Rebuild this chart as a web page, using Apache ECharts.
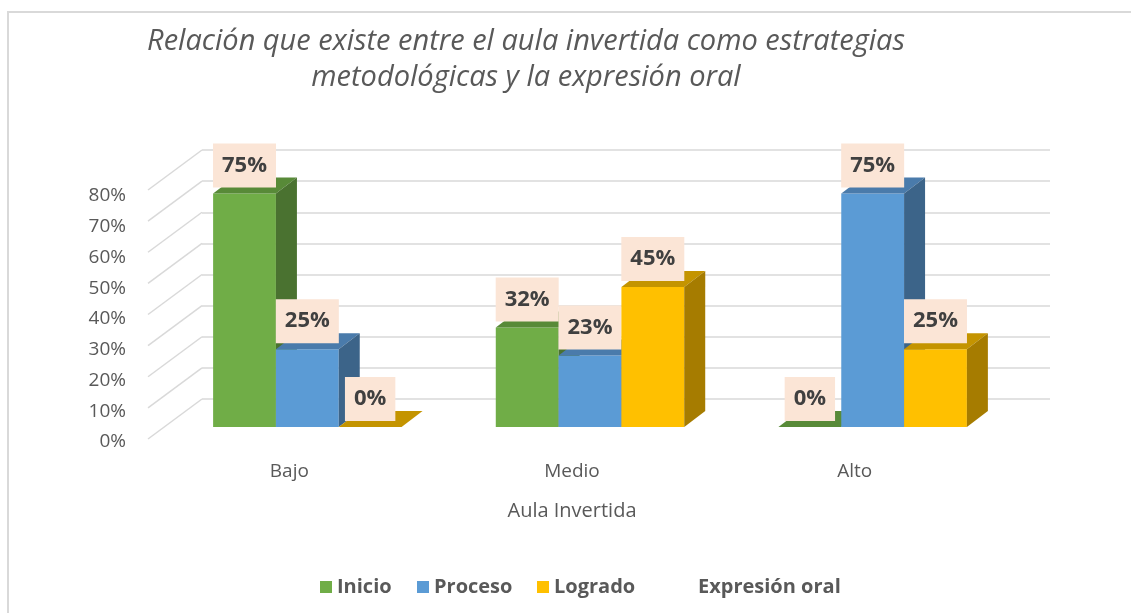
<!DOCTYPE html>
<html>
<head>
<meta charset="utf-8">
<script src="https://cdn.jsdelivr.net/npm/echarts@6/dist/echarts.min.js"></script>
<style>html,body{margin:0;padding:0;background:#fff;}#c{width:1131px;height:613px;}</style>
</head>
<body>
<div id="c"></div>
<script>
const categories = ['Bajo', 'Medio', 'Alto'];
const inicio = [0.75, 0.32, 0];
const proceso = [0.25, 0.23, 0.75];
const logrado = [0, 0.45, 0.25];
const yTicks = [0, 0.1, 0.2, 0.3, 0.4, 0.5, 0.6, 0.7, 0.8];
const seriesNames = ['Inicio', 'Proceso', 'Logrado', 'Expresión oral'];
const titleText = 'Relación que existe entre el aula invertida como estrategias\nmetodológicas y la expresión oral';
const axisName = 'Aula Invertida';

const FONT = '"Open Sans", sans-serif';
const palettes = [
  { main: '#70ad47', top: '#588a38', side: '#4a7230' },
  { main: '#5b9bd5', top: '#4a7bab', side: '#3c6489' },
  { main: '#ffc000', top: '#c49400', side: '#a67c00' }
];
// perspective offsets (pixels)
const FRONT_DX = -36, FRONT_DY = 28, DEPTH_DX = 21, DEPTH_DY = -16;
const WALL_DX = -54, WALL_DY = 40;

function barRenderer(si) {
  const pal = palettes[si];
  return function (params, api) {
    const c = api.value(0), v = api.value(1);
    const base = api.coord([c, 0]);
    const topP = api.coord([c, v]);
    const bandW = api.size([1, 0])[0];
    const bw = bandW * 2 / 9;
    const x0 = base[0] - 1.5 * bw + si * bw + FRONT_DX;
    const x1 = x0 + bw;
    const yb = base[1] + FRONT_DY;
    const yt = topP[1] + FRONT_DY;
    const children = [
      { type: 'rect', shape: { x: x0, y: yt, width: bw, height: yb - yt }, style: { fill: pal.main } },
      { type: 'polygon', shape: { points: [[x0, yt], [x1, yt], [x1 + DEPTH_DX, yt + DEPTH_DY], [x0 + DEPTH_DX, yt + DEPTH_DY]] }, style: { fill: pal.top } },
      { type: 'polygon', shape: { points: [[x1, yt], [x1 + DEPTH_DX, yt + DEPTH_DY], [x1 + DEPTH_DX, yb + DEPTH_DY], [x1, yb]] }, style: { fill: pal.side } },
      { type: 'text', x: (x0 + x1) / 2, y: yt - 6, z2: 100,
        style: { text: Math.round(v * 100) + '%', fill: '#404040', font: 'bold 22px ' + FONT,
          align: 'center', verticalAlign: 'bottom', backgroundColor: '#fbe5d6', padding: [11, 9, 11, 9] } }
    ];
    return { type: 'group', children: children };
  };
}

function diagRenderer(params, api) {
  const v = api.value(1);
  const p = api.coord([0, v]);
  const bandW = api.size([1, 0])[0];
  const xl = p[0] - bandW / 2;
  return { type: 'line', shape: { x1: xl, y1: p[1], x2: xl + WALL_DX, y2: p[1] + WALL_DY },
    style: { stroke: '#d9d9d9', lineWidth: 1.5 } };
}

const seriesData = [inicio, proceso, logrado];
const series = [
  { type: 'custom', name: '_diag', xAxisIndex: 0, yAxisIndex: 0, renderItem: diagRenderer,
    data: yTicks.map(t => [0, t]), encode: { x: 0, y: 1 }, silent: true, z: 1 }
];
seriesData.forEach((arr, si) => {
  series.push({
    type: 'custom', name: seriesNames[si], xAxisIndex: 0, yAxisIndex: 0,
    renderItem: barRenderer(si), itemStyle: { color: palettes[si].main },
    data: arr.map((v, i) => [i, v]), encode: { x: 0, y: 1 }, z: 2 + si
  });
});
series.push({ type: 'custom', name: seriesNames[3], renderItem: () => null, data: [],
  itemStyle: { color: 'rgba(0,0,0,0)' }, xAxisIndex: 0, yAxisIndex: 0 });

const legendLefts = [320, 417, 537, 681];
const legends = seriesNames.map((n, i) => ({
  data: [n], left: legendLefts[i], top: 577, padding: 0, itemWidth: 12, itemHeight: 12, icon: 'rect',
  selectedMode: false, itemGap: 5,
  textStyle: { color: '#595959', fontWeight: 'bold', fontSize: 20, fontFamily: FONT }
}));

const chart = echarts.init(document.getElementById('c'));
chart.setOption({
  backgroundColor: '#fff',
  animation: false,
  title: {
    text: titleText, left: 526, top: 24, padding: 0, textAlign: 'center',
    textStyle: { fontFamily: FONT, fontStyle: 'italic', fontWeight: 'normal', fontSize: 29, color: '#595959', lineHeight: 36, align: 'center' }
  },
  graphic: [{ type: 'rect', shape: { x: 8, y: 12, width: 1140, height: 640 }, style: { fill: null, stroke: '#d9d9d9', lineWidth: 2 }, silent: true, z: -1 }],
  legend: legends,
  grid: [
    { left: 202, right: 81, top: 150, bottom: 214 },
    { left: 148, right: 135, top: 196, bottom: 171 }
  ],
  xAxis: [
    { type: 'category', gridIndex: 0, data: categories, axisLine: { show: false }, axisTick: { show: false }, axisLabel: { show: false } },
    { type: 'category', gridIndex: 1, data: categories, axisLine: { show: false }, axisTick: { show: false },
      axisLabel: { color: '#595959', fontSize: 19, fontFamily: FONT, margin: 20 },
      name: axisName, nameLocation: 'middle', nameGap: 59,
      nameTextStyle: { color: '#595959', fontSize: 20, fontFamily: FONT } }
  ],
  yAxis: [
    { type: 'value', gridIndex: 0, min: 0, max: 0.8, interval: 0.1, axisLine: { show: false }, axisTick: { show: false }, axisLabel: { show: false },
      splitLine: { lineStyle: { color: '#d9d9d9', width: 1.5 } } },
    { type: 'value', gridIndex: 1, min: 0, max: 0.8, interval: 0.1, axisLine: { show: false }, axisTick: { show: false }, splitLine: { show: false },
      axisLabel: { color: '#595959', fontSize: 19, fontFamily: FONT, margin: 22, formatter: v => Math.round(v * 100) + '%' } }
  ],
  series: series
});
</script>
</body>
</html>
